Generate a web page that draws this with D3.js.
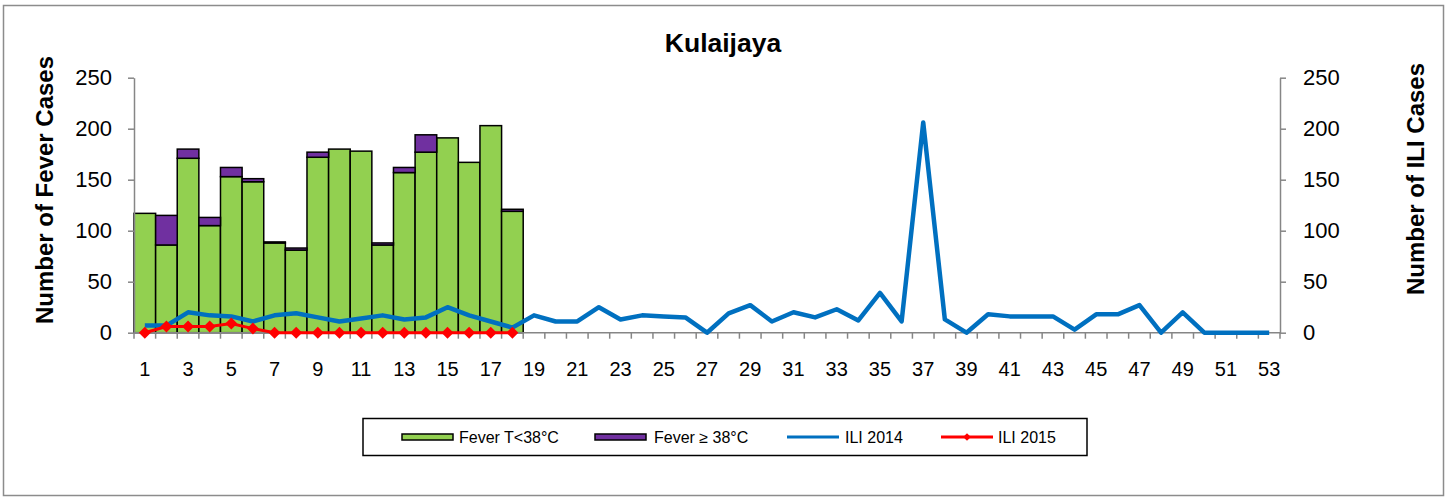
<!DOCTYPE html>
<head>
<meta charset="utf-8">
<script src="https://d3js.org/d3.v7.min.js"></script>
</head>
<style>
body { margin: 0; background: #fff; }
text { font-family: "Liberation Sans", Arial, sans-serif; }
.axis path, .axis line { stroke: #868686; stroke-width: 1.5px; }
.axis text { fill: #000; }
</style>
<body>
<script>
// weeks 1..53
var weeks = d3.range(1, 54);
// fever cases, weeks 1-18
var feverLow  = [117, 86, 171, 105, 153, 148, 88, 81, 172, 180, 178, 86, 157, 177, 191, 167, 203, 119];
var feverHigh = [0, 29, 9, 8, 9, 3, 1, 2, 5, 0, 0, 2, 5, 17, 0, 0, 0, 2];
// ILI cases
var ili2014 = [7, 7, 20, 17, 16, 11, 17, 19, 15, 11, 14, 17, 13, 15, 25, 17, 11, 5, 17, 11, 11, 25, 13, 17, 16, 15,
               0, 19, 27, 11, 20, 15, 23, 12, 39, 11, 206, 13, 0, 18, 16, 16, 16, 3, 18, 18, 27, 0, 20, 0, 0, 0, 0];
var ili2015 = [0, 6, 6, 6, 9, 4, 0, 0, 0, 0, 0, 0, 0, 0, 0, 0, 0, 0];
var yTicks = [0, 50, 100, 150, 200, 250];

var W = 1450, H = 498;
var plotL = 134, plotR = 1280, plotT = 77.7, plotB = 332.7;

var svg = d3.select("body").append("svg")
    .attr("width", W)
    .attr("height", H);

svg.append("rect")
    .attr("x", 3.5).attr("y", 5.5)
    .attr("width", 1440).attr("height", 490)
    .attr("fill", "#fff")
    .attr("stroke", "#8c8c8c")
    .attr("stroke-width", 1.5);

var x = d3.scaleBand().domain(weeks).range([plotL, plotR]).padding(0);
var y = d3.scaleLinear().domain([0, 250]).range([plotB, plotT]);
var cx = function(i) { return x(weeks[i]) + x.bandwidth() / 2; };

// bars
var barData = feverLow.map(function(v, i) { return {w: weeks[i], low: v, high: feverHigh[i]}; });
svg.append("g").selectAll("rect").data(barData).enter().append("rect")
    .attr("x", function(d) { return x(d.w); })
    .attr("y", function(d) { return y(d.low); })
    .attr("width", x.bandwidth())
    .attr("height", function(d) { return y(0) - y(d.low); })
    .attr("fill", "#92D050")
    .attr("stroke", "#000")
    .attr("stroke-width", 1.5);
svg.append("g").selectAll("rect").data(barData.filter(function(d) { return d.high > 0; })).enter().append("rect")
    .attr("x", function(d) { return x(d.w); })
    .attr("y", function(d) { return y(d.low + d.high); })
    .attr("width", x.bandwidth())
    .attr("height", function(d) { return y(d.low) - y(d.low + d.high); })
    .attr("fill", "#7030A0")
    .attr("stroke", "#000")
    .attr("stroke-width", 1.5);

// axes
var xAxis = d3.axisBottom(x).tickSize(0).tickFormat(function(d) { return d % 2 ? d : ""; });
var gx = svg.append("g").attr("class", "axis")
    .attr("transform", "translate(0," + plotB + ")")
    .call(xAxis);
gx.select(".domain").attr("d", "M" + plotL + ",0H" + plotR);
gx.selectAll("text").attr("y", 43).attr("dy", 0).style("font-size", "20px");
// ticks between weeks
gx.selectAll(".sep").data(d3.range(54)).enter().append("line")
    .attr("class", "sep")
    .attr("x1", function(i) { return plotL + i * x.bandwidth(); })
    .attr("x2", function(i) { return plotL + i * x.bandwidth(); })
    .attr("y1", 0).attr("y2", 6);

var gl = svg.append("g").attr("class", "axis")
    .attr("transform", "translate(" + plotL + ",0)")
    .call(d3.axisLeft(y).tickValues(yTicks).tickSize(6).tickSizeOuter(0).tickPadding(16));
var gr = svg.append("g").attr("class", "axis")
    .attr("transform", "translate(" + plotR + ",0)")
    .call(d3.axisRight(y).tickValues(yTicks).tickSize(6).tickSizeOuter(0).tickPadding(17));
svg.selectAll(".axis text").filter(function() { return this.parentNode.parentNode !== gx.node(); })
    .style("font-size", "22px");

// lines
var line14 = d3.line().x(function(d, i) { return cx(i); }).y(function(d) { return y(d); });
svg.append("path").datum(ili2014)
    .attr("fill", "none")
    .attr("stroke", "#0070C0")
    .attr("stroke-width", 4.5)
    .attr("stroke-linejoin", "round")
    .attr("d", line14);
svg.append("path").datum(ili2015)
    .attr("fill", "none")
    .attr("stroke", "#FF0000")
    .attr("stroke-width", 3)
    .attr("d", line14);
svg.append("g").selectAll("path").data(ili2015).enter().append("path")
    .attr("d", d3.symbol().type(d3.symbolSquare).size(72))
    .attr("transform", function(d, i) { return "translate(" + cx(i) + "," + y(d) + ") rotate(45)"; })
    .attr("fill", "#FF0000");

// titles
svg.append("text")
    .attr("x", 723).attr("y", 52)
    .attr("text-anchor", "middle")
    .style("font-size", "26.5px").style("font-weight", "bold")
    .text("Kulaijaya");
svg.append("text")
    .attr("transform", "translate(53,190) rotate(-90)")
    .attr("text-anchor", "middle")
    .style("font-size", "24px").style("font-weight", "bold")
    .text("Number of Fever Cases");
svg.append("text")
    .attr("transform", "translate(1424,179) rotate(-90)")
    .attr("text-anchor", "middle")
    .style("font-size", "24px").style("font-weight", "bold")
    .text("Number of ILI Cases");

// legend
var lg = svg.append("g");
lg.append("rect")
    .attr("x", 363).attr("y", 418.5)
    .attr("width", 724).attr("height", 37)
    .attr("fill", "#fff").attr("stroke", "#000").attr("stroke-width", 1.5);
var legendItems = [
  {label: "Fever T<38°C", kind: "bar", color: "#92D050", x: 402, tx: 459},
  {label: "Fever \u2265 38°C", kind: "bar", color: "#7030A0", x: 595, tx: 654},
  {label: "ILI 2014", kind: "line", color: "#0070C0", x: 787, tx: 845},
  {label: "ILI 2015", kind: "marker", color: "#FF0000", x: 941, tx: 998}
];
legendItems.forEach(function(it) {
  if (it.kind === "bar") {
    lg.append("rect").attr("x", it.x).attr("y", 434).attr("width", 51).attr("height", 6)
      .attr("fill", it.color).attr("stroke", "#000").attr("stroke-width", 1.5);
  } else {
    lg.append("line").attr("x1", it.x).attr("x2", it.x + 52).attr("y1", 437).attr("y2", 437)
      .attr("stroke", it.color).attr("stroke-width", 3);
    if (it.kind === "marker") {
      lg.append("path").attr("d", d3.symbol().type(d3.symbolSquare).size(30))
        .attr("transform", "translate(" + (it.x + 26) + ",437) rotate(45)")
        .attr("fill", it.color);
    }
  }
  lg.append("text").attr("x", it.tx).attr("y", 443)
    .style("font-size", "16px")
    .text(it.label);
});
</script>
</body>
